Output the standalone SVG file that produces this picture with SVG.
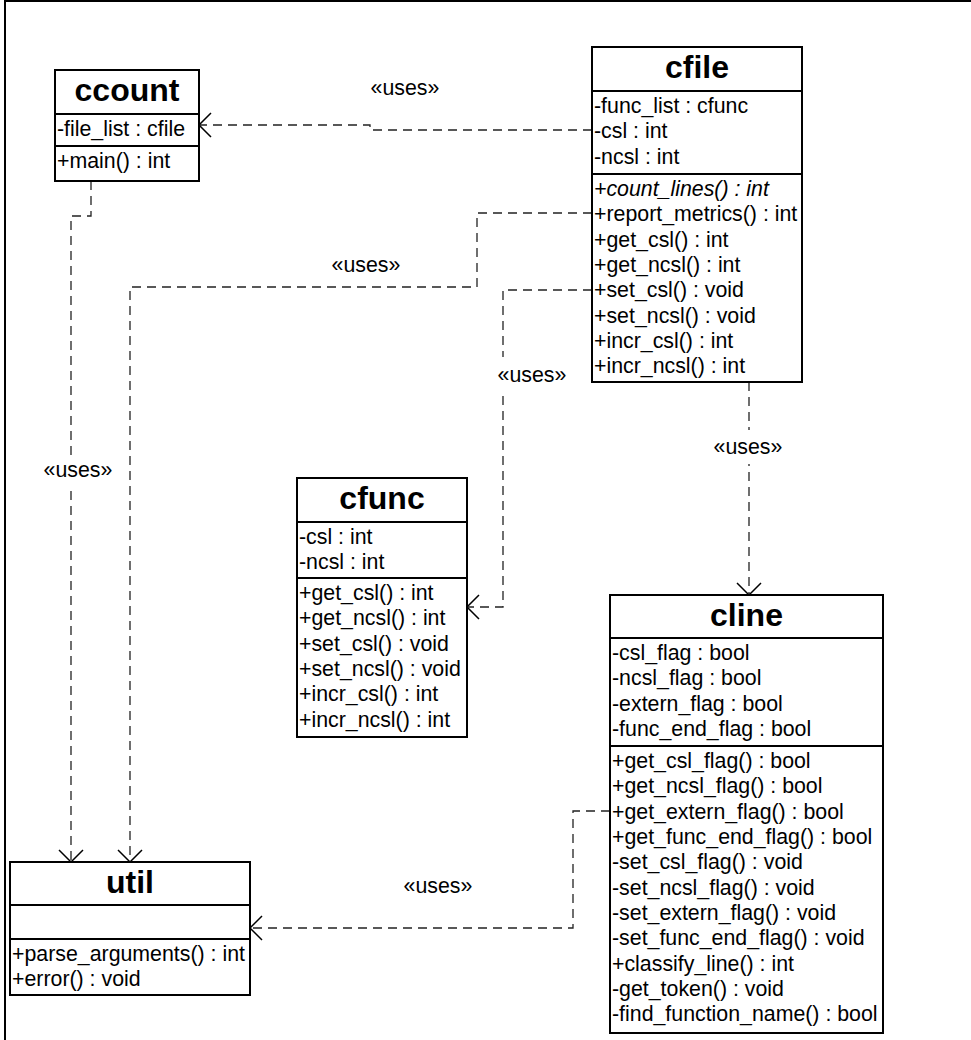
<svg xmlns="http://www.w3.org/2000/svg" width="971" height="1040" viewBox="0 0 971 1040">
<style>
.box{fill:#fff;stroke:#000;stroke-width:2}
.div{stroke:#000;stroke-width:2}
.t{font-family:"Liberation Sans",Arial,sans-serif;font-size:21.33px;fill:#000}
.h{font-family:"Liberation Sans",Arial,sans-serif;font-size:32px;font-weight:bold;fill:#000;text-anchor:middle}
.i{font-style:italic}
.dep{fill:none;stroke:#222;stroke-width:1.3;stroke-dasharray:9 6;marker-end:url(#open)}
.lbl{font-family:"Liberation Sans",Arial,sans-serif;font-size:21.33px;fill:#000;text-anchor:middle}
.lb{fill:#fff}
</style>
<defs>
<marker id="open" markerUnits="userSpaceOnUse" viewBox="-15 -15 17 30" refX="0" refY="0" markerWidth="17" markerHeight="30" orient="auto">
<path d="M-12,-12 L0,0 L-12,12" fill="none" stroke="#000" stroke-width="1.5" stroke-dasharray="none"/>
</marker>
</defs>
<rect width="971" height="1040" fill="#fff"/>
<path d="M5,1040 V1 H971" fill="none" stroke="#000" stroke-width="2"/>

<g id="connectors">
<path class="dep" d="M592,130 H370 V125 H199"/>
<path class="dep" d="M91,181 V216 H71 V862"/>
<path class="dep" d="M592,213 H477 V287 H130 V862"/>
<path class="dep" d="M592,290 H503 V607 H467"/>
<path class="dep" d="M749,382 V595"/>
<path class="dep" d="M610,811 H573 V928 H250"/>
<rect class="lb" x="370" y="76" width="70" height="24"/>
<text class="lbl" x="405" y="95">«uses»</text>
<text class="lbl" x="366" y="272">«uses»</text>
<rect class="lb" x="43" y="455" width="70" height="30"/>
<text class="lbl" x="78" y="477">«uses»</text>
<rect class="lb" x="497" y="357" width="70" height="34"/>
<text class="lbl" x="532" y="382">«uses»</text>
<rect class="lb" x="713" y="430" width="70" height="34"/>
<text class="lbl" x="748" y="454">«uses»</text>
<text class="lbl" x="438" y="893">«uses»</text>
</g>

<g id="ccount">
<rect class="box" x="55" y="70" width="144" height="111"/>
<line class="div" x1="55" y1="114" x2="199" y2="114"/>
<line class="div" x1="55" y1="146" x2="199" y2="146"/>
<text class="h" x="127" y="101">ccount</text>
<text class="t" x="57" y="136">-file_list : cfile</text>
<text class="t" x="57" y="168">+main() : int</text>
</g>

<g id="cfile">
<rect class="box" x="592" y="47" width="210" height="335"/>
<line class="div" x1="592" y1="91" x2="802" y2="91"/>
<line class="div" x1="592" y1="174" x2="802" y2="174"/>
<text class="h" x="697" y="78">cfile</text>
<text class="t" x="594" y="113">-func_list : cfunc</text>
<text class="t" x="594" y="138">-csl : int</text>
<text class="t" x="594" y="164">-ncsl : int</text>
<text class="t i" x="594" y="196">+count_lines() : int</text>
<text class="t" x="594" y="221">+report_metrics() : int</text>
<text class="t" x="594" y="247">+get_csl() : int</text>
<text class="t" x="594" y="272">+get_ncsl() : int</text>
<text class="t" x="594" y="297">+set_csl() : void</text>
<text class="t" x="594" y="323">+set_ncsl() : void</text>
<text class="t" x="594" y="348">+incr_csl() : int</text>
<text class="t" x="594" y="373">+incr_ncsl() : int</text>
</g>

<g id="cfunc">
<rect class="box" x="297" y="478" width="170" height="259"/>
<line class="div" x1="297" y1="522" x2="467" y2="522"/>
<line class="div" x1="297" y1="578" x2="467" y2="578"/>
<text class="h" x="382" y="509">cfunc</text>
<text class="t" x="299" y="544">-csl : int</text>
<text class="t" x="299" y="569">-ncsl : int</text>
<text class="t" x="299" y="600">+get_csl() : int</text>
<text class="t" x="299" y="625">+get_ncsl() : int</text>
<text class="t" x="299" y="651">+set_csl() : void</text>
<text class="t" x="299" y="676">+set_ncsl() : void</text>
<text class="t" x="299" y="701">+incr_csl() : int</text>
<text class="t" x="299" y="727">+incr_ncsl() : int</text>
</g>

<g id="cline">
<rect class="box" x="610" y="595" width="273" height="438"/>
<line class="div" x1="610" y1="638" x2="883" y2="638"/>
<line class="div" x1="610" y1="746" x2="883" y2="746"/>
<text class="h" x="746.5" y="626">cline</text>
<text class="t" x="612" y="660">-csl_flag : bool</text>
<text class="t" x="612" y="685">-ncsl_flag : bool</text>
<text class="t" x="612" y="711">-extern_flag : bool</text>
<text class="t" x="612" y="736">-func_end_flag : bool</text>
<text class="t" x="612" y="768">+get_csl_flag() : bool</text>
<text class="t" x="612" y="793">+get_ncsl_flag() : bool</text>
<text class="t" x="612" y="819">+get_extern_flag() : bool</text>
<text class="t" x="612" y="844">+get_func_end_flag() : bool</text>
<text class="t" x="612" y="869">-set_csl_flag() : void</text>
<text class="t" x="612" y="895">-set_ncsl_flag() : void</text>
<text class="t" x="612" y="920">-set_extern_flag() : void</text>
<text class="t" x="612" y="945">-set_func_end_flag() : void</text>
<text class="t" x="612" y="971">+classify_line() : int</text>
<text class="t" x="612" y="996">-get_token() : void</text>
<text class="t" x="612" y="1021">-find_function_name() : bool</text>
</g>

<g id="util">
<rect class="box" x="10" y="862" width="240" height="133"/>
<line class="div" x1="10" y1="905" x2="250" y2="905"/>
<line class="div" x1="10" y1="939" x2="250" y2="939"/>
<text class="h" x="130" y="893">util</text>
<text class="t" x="12" y="961">+parse_arguments() : int</text>
<text class="t" x="12" y="986">+error() : void</text>
</g>
</svg>
